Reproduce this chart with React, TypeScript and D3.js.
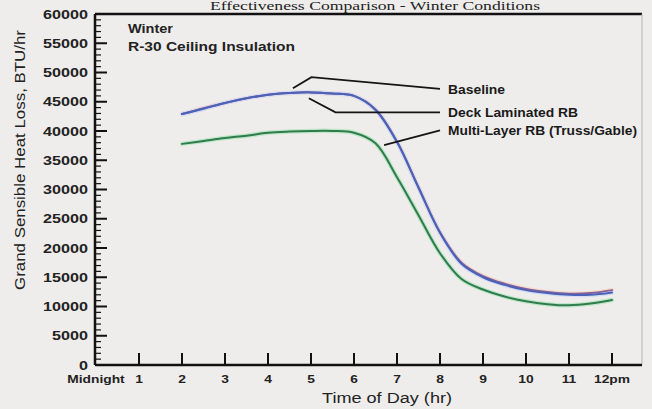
import { useEffect, useRef, type FC } from 'react';
import * as d3 from 'd3';

const hours = [2, 2.5, 3, 3.5, 4, 4.5, 5, 5.5, 6, 6.5, 7, 7.5, 8, 8.5, 9, 9.5, 10, 10.5, 11, 11.5, 12];

const baseline = [
  42900, 43900, 44800, 45600, 46200, 46500, 46600, 46400, 46000, 43700, 38200, 30400, 22700,
  17500, 15200, 13900, 13000, 12500, 12200, 12300, 12800,
];
const deckLaminated = [
  42900, 43800, 44800, 45600, 46200, 46500, 46600, 46400, 46000, 43600, 38100, 30300, 22600,
  17300, 15000, 13700, 12800, 12300, 12000, 12000, 12400,
];
const multiLayer = [
  37800, 38300, 38800, 39200, 39700, 39900, 40000, 40000, 39700, 37900, 32100, 25600, 19100,
  14700, 12900, 11700, 10900, 10400, 10200, 10500, 11100,
];

const xTickLabels = ['Midnight', '1', '2', '3', '4', '5', '6', '7', '8', '9', '10', '11', '12pm'];
const yTicks = d3.range(0, 60001, 5000);
const yMinorTicks = d3.range(0, 60001, 1000);

const seriesNames = ['Baseline', 'Deck Laminated RB', 'Multi-Layer RB (Truss/Gable)'];

// leader lines, in data units (hour, BTU/hr)
const leaderPoints: [number, number][][] = [
  [[4.58, 47300], [5.01, 49200], [8.0, 47200]],
  [[4.95, 45600], [5.57, 43200], [8.0, 43200]],
  [[6.7, 37600], [8.0, 40100]],
];

const W = 652;
const H = 409;

const App: FC = () => {
  const svgRef = useRef<SVGSVGElement>(null);

  useEffect(() => {
    if (!svgRef.current) return;
    const svg = d3.select(svgRef.current);
    svg.selectAll('*').remove();

    const left = 95;
    const right = 642;
    const top = 14;
    const bottom = 365;

    const x = d3.scaleLinear().domain([0, 12]).range([96, 612]);
    const y = d3.scaleLinear().domain([0, 60000]).range([bottom, top]);

    svg.append('rect').attr('width', W).attr('height', H).attr('fill', '#efedec');

    // title
    svg
      .append('text')
      .attr('x', 375)
      .attr('y', 10)
      .attr('text-anchor', 'middle')
      .attr('font-family', 'Liberation Serif, serif')
      .attr('font-size', 12)
      .attr('textLength', 330)
      .attr('lengthAdjust', 'spacingAndGlyphs')
      .attr('fill', '#222')
      .text('Effectiveness Comparison - Winter Conditions');

    // frame
    svg
      .append('line')
      .attr('x1', left)
      .attr('x2', right)
      .attr('y1', top)
      .attr('y2', top)
      .attr('stroke', '#111')
      .attr('stroke-width', 2.5);
    svg
      .append('line')
      .attr('x1', right)
      .attr('x2', right)
      .attr('y1', top)
      .attr('y2', bottom)
      .attr('stroke', '#b5b3b3')
      .attr('stroke-width', 1);

    // y axis
    svg
      .append('line')
      .attr('x1', left)
      .attr('x2', left)
      .attr('y1', top)
      .attr('y2', bottom)
      .attr('stroke', '#111')
      .attr('stroke-width', 2.5);

    svg
      .append('g')
      .selectAll('line')
      .data(yMinorTicks)
      .enter()
      .append('line')
      .attr('x1', left)
      .attr('x2', (d) => (d % 5000 === 0 ? left + 12 : left + 6))
      .attr('y1', (d) => y(d))
      .attr('y2', (d) => y(d))
      .attr('stroke', '#111')
      .attr('stroke-width', (d) => (d % 5000 === 0 ? 2 : 1.2));

    svg
      .append('g')
      .selectAll('text')
      .data(yTicks)
      .enter()
      .append('text')
      .attr('transform', (d) => `translate(88,${y(d) + 4.5}) scale(1.35,1)`)
      .attr('text-anchor', 'end')
      .attr('font-family', 'Liberation Sans, Arial, sans-serif')
      .attr('font-weight', 'bold')
      .attr('font-size', 12)
      .attr('fill', '#222')
      .text((d) => d);

    // x axis
    svg
      .append('line')
      .attr('x1', left)
      .attr('x2', right)
      .attr('y1', bottom)
      .attr('y2', bottom)
      .attr('stroke', '#111')
      .attr('stroke-width', 2.5);

    svg
      .append('g')
      .selectAll('line')
      .data(d3.range(1, 13))
      .enter()
      .append('line')
      .attr('x1', (d) => x(d))
      .attr('x2', (d) => x(d))
      .attr('y1', bottom)
      .attr('y2', bottom - 12)
      .attr('stroke', '#111')
      .attr('stroke-width', 2);

    svg
      .append('g')
      .selectAll('text')
      .data(xTickLabels)
      .enter()
      .append('text')
      .attr('transform', (_, i) => `translate(${x(i)},${bottom + 18}) scale(1.2,1)`)
      .attr('text-anchor', 'middle')
      .attr('font-family', 'Liberation Sans, Arial, sans-serif')
      .attr('font-weight', 'bold')
      .attr('font-size', 11.5)
      .attr('fill', '#222')
      .text((d) => d);

    svg
      .append('text')
      .attr('x', 387)
      .attr('y', 403)
      .attr('text-anchor', 'middle')
      .attr('font-family', 'Liberation Sans, Arial, sans-serif')
      .attr('font-size', 14)
      .attr('textLength', 130)
      .attr('lengthAdjust', 'spacingAndGlyphs')
      .attr('fill', '#222')
      .text('Time of Day (hr)');

    svg
      .append('text')
      .attr('transform', 'translate(25,160) rotate(-90)')
      .attr('text-anchor', 'middle')
      .attr('font-family', 'Liberation Sans, Arial, sans-serif')
      .attr('font-size', 14)
      .attr('textLength', 260)
      .attr('lengthAdjust', 'spacingAndGlyphs')
      .attr('fill', '#222')
      .text('Grand Sensible Heat Loss, BTU/hr');

    // notes
    const notes = [
      { t: 'Winter', yy: 33, len: 45 },
      { t: 'R-30 Ceiling Insulation', yy: 51, len: 167 },
    ];
    svg
      .append('g')
      .selectAll('text')
      .data(notes)
      .enter()
      .append('text')
      .attr('x', 128)
      .attr('y', (d) => d.yy)
      .attr('font-family', 'Liberation Sans, Arial, sans-serif')
      .attr('font-weight', 'bold')
      .attr('font-size', 12)
      .attr('textLength', (d) => d.len)
      .attr('lengthAdjust', 'spacingAndGlyphs')
      .attr('fill', '#222')
      .text((d) => d.t);

    // curves
    const line = d3
      .line<number>()
      .x((_, i) => x(hours[i]))
      .y((d) => y(d))
      .curve(d3.curveCatmullRom.alpha(0.5));

    const series = [
      { values: multiLayer, color: '#2f7c4d', halo: '#bfe6c8' },
      { values: baseline, color: '#8a5f96', halo: '#f3dcc8' },
      { values: deckLaminated, color: '#4a62b8', halo: '#d6dcf2' },
    ];

    series.forEach((s) => {
      svg
        .append('path')
        .attr('d', line(s.values))
        .attr('fill', 'none')
        .attr('stroke', s.halo)
        .attr('stroke-width', 4.5)
        .attr('stroke-linecap', 'round');
    });
    series.forEach((s) => {
      svg
        .append('path')
        .attr('d', line(s.values))
        .attr('fill', 'none')
        .attr('stroke', s.color)
        .attr('stroke-width', 2)
        .attr('stroke-linecap', 'round');
    });

    // leader lines + labels
    const leader = d3
      .line<[number, number]>()
      .x((d) => x(d[0]))
      .y((d) => y(d[1]));

    leaderPoints.forEach((pts) => {
      svg
        .append('path')
        .attr('d', leader(pts))
        .attr('fill', 'none')
        .attr('stroke', '#151515')
        .attr('stroke-width', 1.8);
    });

    const labelLens = [57, 130, 189];
    svg
      .append('g')
      .selectAll('text')
      .data(seriesNames)
      .enter()
      .append('text')
      .attr('x', 448)
      .attr('y', (_, i) => y(leaderPoints[i][leaderPoints[i].length - 1][1]) + 5)
      .attr('font-family', 'Liberation Sans, Arial, sans-serif')
      .attr('font-weight', 'bold')
      .attr('font-size', 12)
      .attr('textLength', (_, i) => labelLens[i])
      .attr('lengthAdjust', 'spacingAndGlyphs')
      .attr('fill', '#1a1a1a')
      .text((d) => d);
  }, []);

  return (
    <div style={{ position: 'absolute', left: 0, top: 0, width: W, height: H }}>
      <svg ref={svgRef} width={W} height={H} style={{ display: 'block' }} />
    </div>
  );
};

export default App;
